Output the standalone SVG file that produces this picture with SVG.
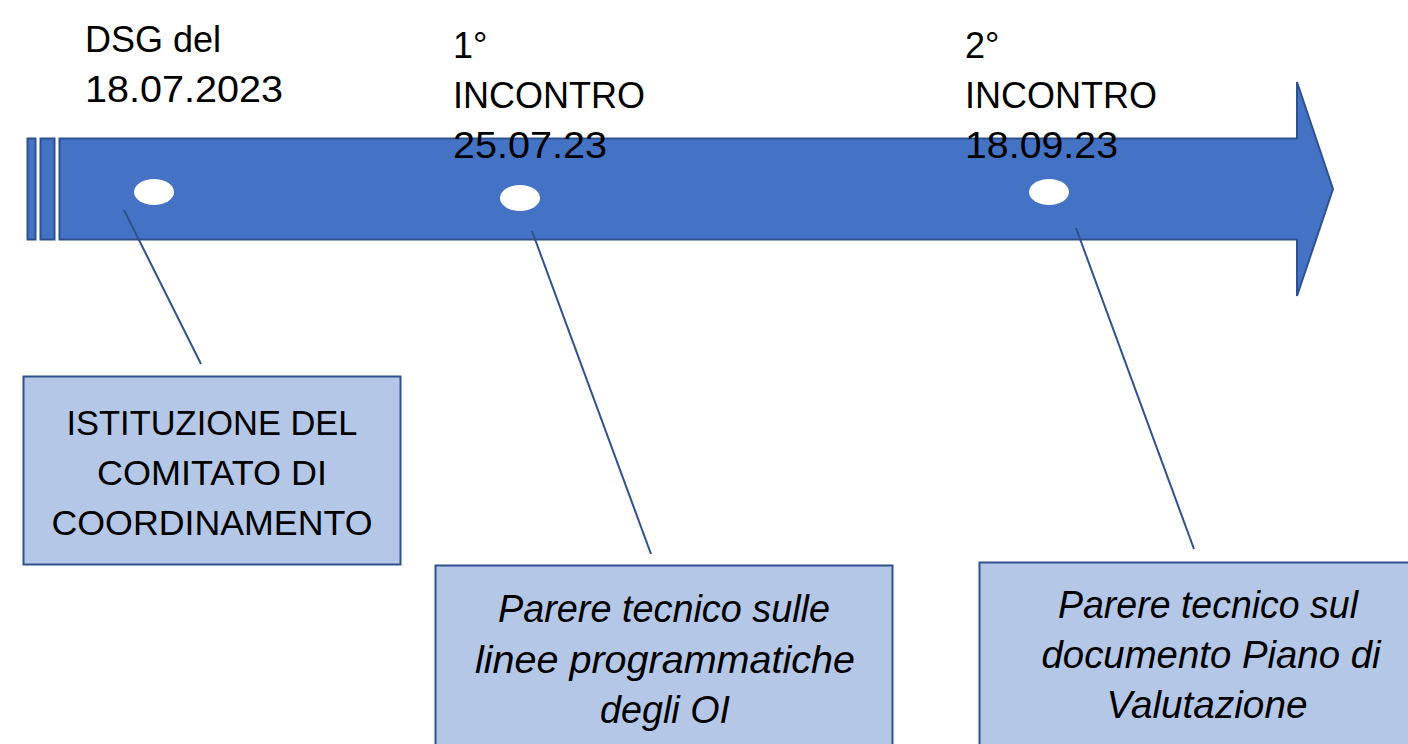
<svg xmlns="http://www.w3.org/2000/svg" width="1408" height="744" viewBox="0 0 1408 744">
<style>
.bar{fill:#4472C4;stroke:#2F528F;stroke-width:2}
.dot{fill:#FFFFFF}
.box{fill:#B4C7E7;stroke:#2F528F;stroke-width:2}
.lbl{font-family:"Liberation Sans",Arial,sans-serif;font-size:36px;fill:#000}
.btx{font-family:"Liberation Sans",Arial,sans-serif;font-size:35px;fill:#000;text-anchor:middle}
.itx{font-family:"Liberation Sans",Arial,sans-serif;font-size:38px;font-style:italic;fill:#000;text-anchor:middle}
.con{stroke:#2F528F;stroke-width:2;fill:none}
</style>
<rect width="1408" height="744" fill="#FFFFFF"/>
<g id="timeline">
<rect class="bar" x="27.5" y="138.5" width="8" height="101"/>
<rect class="bar" x="40.5" y="138.5" width="14" height="101"/>
<polygon class="bar" points="59.5,138.5 1297,138.5 1297,82 1333,189 1297,296 1297,239.5 59.5,239.5"/>
<ellipse class="dot" cx="154" cy="192" rx="20" ry="13"/>
<ellipse class="dot" cx="520" cy="198" rx="20" ry="13"/>
<ellipse class="dot" cx="1049" cy="192" rx="20" ry="13"/>
</g>
<g id="label-dsg">
<text class="lbl" x="85" y="52">DSG del</text>
<text class="lbl" x="85" y="102" textLength="198" lengthAdjust="spacingAndGlyphs">18.07.2023</text>
</g>
<g id="label-1">
<text class="lbl" x="453" y="58">1°</text>
<text class="lbl" x="453" y="108">INCONTRO</text>
<text class="lbl" x="453" y="158" textLength="154" lengthAdjust="spacingAndGlyphs">25.07.23</text>
</g>
<g id="label-2">
<text class="lbl" x="965" y="58">2°</text>
<text class="lbl" x="965" y="108">INCONTRO</text>
<text class="lbl" x="965" y="158" textLength="153" lengthAdjust="spacingAndGlyphs">18.09.23</text>
</g>
<g id="connectors">
<line class="con" x1="124" y1="210" x2="201" y2="364"/>
<line class="con" x1="532" y1="231" x2="651" y2="554"/>
<line class="con" x1="1076" y1="228" x2="1194" y2="549"/>
</g>
<g id="box-istituzione">
<rect class="box" x="23.5" y="376.5" width="377" height="188"/>
<text class="btx" x="212" y="435" textLength="291" lengthAdjust="spacingAndGlyphs">ISTITUZIONE DEL</text>
<text class="btx" x="212" y="485" textLength="230" lengthAdjust="spacingAndGlyphs">COMITATO DI</text>
<text class="btx" x="212" y="535" textLength="321" lengthAdjust="spacingAndGlyphs">COORDINAMENTO</text>
</g>
<g id="box-parere-1">
<rect class="box" x="435.5" y="565.5" width="457" height="190"/>
<text class="itx" x="664" y="622" textLength="332" lengthAdjust="spacingAndGlyphs">Parere tecnico sulle</text>
<text class="itx" x="665" y="673" textLength="380" lengthAdjust="spacingAndGlyphs">linee programmatiche</text>
<text class="itx" x="665" y="723" textLength="130" lengthAdjust="spacingAndGlyphs">degli OI</text>
</g>
<g id="box-parere-2">
<rect class="box" x="979.5" y="562.5" width="440" height="190"/>
<text class="itx" x="1208" y="618" textLength="300" lengthAdjust="spacingAndGlyphs">Parere tecnico sul</text>
<text class="itx" x="1211" y="668" textLength="339" lengthAdjust="spacingAndGlyphs">documento Piano di</text>
<text class="itx" x="1207" y="718" textLength="201" lengthAdjust="spacingAndGlyphs">Valutazione</text>
</g>
</svg>
